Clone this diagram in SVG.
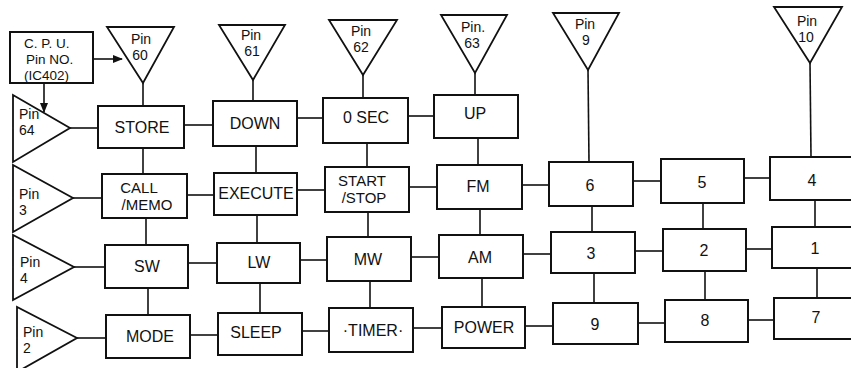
<svg xmlns="http://www.w3.org/2000/svg" width="851" height="368" viewBox="0 0 851 368">
<defs>
<style>
.b{fill:#fff;stroke:#111;stroke-width:2}
.t{fill:#fff;stroke:#111;stroke-width:1.8;stroke-linejoin:miter}
.c{stroke:#111;stroke-width:1.6;fill:none}
text{font-family:"Liberation Sans",Arial,sans-serif;fill:#111}
.l{font-size:16px;text-anchor:middle}
.l2{font-size:15px;text-anchor:middle}
.p{font-size:14px;text-anchor:middle}
.pl{font-size:14px}
.cpu{font-size:13.5px}
</style>
<marker id="ah" markerWidth="10" markerHeight="8" refX="9" refY="4" orient="auto" markerUnits="userSpaceOnUse">
<path d="M0,0 L10,4 L0,8 Z" fill="#111"/>
</marker>
</defs>
<rect width="851" height="368" fill="#fff"/>
<g id="connectors">
<line class="c" x1="93" y1="59" x2="122" y2="59" marker-end="url(#ah)"/>
<line class="c" x1="44" y1="84" x2="44" y2="112" marker-end="url(#ah)"/>
<line class="c" x1="143" y1="83" x2="143" y2="106"/>
<line class="c" x1="253" y1="80" x2="253" y2="101"/>
<line class="c" x1="363" y1="75" x2="363" y2="98"/>
<line class="c" x1="475" y1="73" x2="475" y2="95"/>
<line class="c" x1="588" y1="70" x2="589" y2="162"/>
<line class="c" x1="810" y1="63" x2="811" y2="157"/>
<line class="c" x1="143" y1="148" x2="143" y2="174"/>
<line class="c" x1="146" y1="218" x2="146" y2="245"/>
<line class="c" x1="148" y1="288" x2="148" y2="315"/>
<line class="c" x1="256" y1="146" x2="256" y2="173"/>
<line class="c" x1="257" y1="215" x2="257" y2="243"/>
<line class="c" x1="260" y1="283" x2="260" y2="313"/>
<line class="c" x1="367" y1="143" x2="367" y2="167"/>
<line class="c" x1="368" y1="212" x2="368" y2="237"/>
<line class="c" x1="370" y1="281" x2="370" y2="308"/>
<line class="c" x1="478" y1="138" x2="478" y2="165"/>
<line class="c" x1="480" y1="209" x2="480" y2="235"/>
<line class="c" x1="482" y1="278" x2="482" y2="307"/>
<line class="c" x1="592" y1="206" x2="592" y2="232"/>
<line class="c" x1="594" y1="273" x2="594" y2="303"/>
<line class="c" x1="703" y1="203" x2="703" y2="229"/>
<line class="c" x1="705" y1="271" x2="705" y2="300"/>
<line class="c" x1="815" y1="200" x2="815" y2="227"/>
<line class="c" x1="817" y1="268" x2="817" y2="298"/>
<line class="c" x1="70" y1="128" x2="98" y2="128"/>
<line class="c" x1="184" y1="125" x2="213" y2="125"/>
<line class="c" x1="297" y1="118" x2="323" y2="118"/>
<line class="c" x1="408" y1="116" x2="434" y2="116"/>
<line class="c" x1="73" y1="198" x2="102" y2="198"/>
<line class="c" x1="187" y1="195" x2="214" y2="195"/>
<line class="c" x1="297" y1="190" x2="325" y2="190"/>
<line class="c" x1="409" y1="187" x2="437" y2="187"/>
<line class="c" x1="522" y1="185" x2="549" y2="185"/>
<line class="c" x1="633" y1="181" x2="661" y2="181"/>
<line class="c" x1="744" y1="178" x2="770" y2="178"/>
<line class="c" x1="74" y1="267" x2="105" y2="267"/>
<line class="c" x1="188" y1="263" x2="217" y2="263"/>
<line class="c" x1="300" y1="260" x2="327" y2="260"/>
<line class="c" x1="411" y1="257" x2="439" y2="257"/>
<line class="c" x1="523" y1="254" x2="551" y2="254"/>
<line class="c" x1="635" y1="251" x2="663" y2="251"/>
<line class="c" x1="746" y1="249" x2="772" y2="249"/>
<line class="c" x1="77" y1="338" x2="106" y2="338"/>
<line class="c" x1="190" y1="335" x2="218" y2="335"/>
<line class="c" x1="302" y1="331" x2="329" y2="331"/>
<line class="c" x1="413" y1="328" x2="442" y2="328"/>
<line class="c" x1="525" y1="326" x2="553" y2="326"/>
<line class="c" x1="638" y1="323" x2="665" y2="323"/>
<line class="c" x1="748" y1="320" x2="774" y2="320"/>
</g>
<g id="cpu">
<rect class="b" x="10" y="32" width="83" height="51"/>
<text class="cpu" x="24" y="48">C. P. U.</text>
<text class="cpu" x="26" y="64">Pin  NO.</text>
<text class="cpu" x="24" y="80">(IC402)</text>
</g>
<g id="pin60"><polygon class="t" points="107,27 174,27 143,83"/><text class="p" x="141" y="44">Pin</text><text class="p" x="140" y="60">60</text></g>
<g id="pin61"><polygon class="t" points="219,25 285,25 253,80"/><text class="p" x="251" y="40">Pin</text><text class="p" x="252" y="56">61</text></g>
<g id="pin62"><polygon class="t" points="329,20 397,20 363,75"/><text class="p" x="361" y="36">Pin</text><text class="p" x="361" y="52">62</text></g>
<g id="pin63"><polygon class="t" points="441,15 507,15 475,73"/><text class="p" x="473" y="32">Pin.</text><text class="p" x="472" y="48">63</text></g>
<g id="pin9"><polygon class="t" points="553,13 619,13 588,70"/><text class="p" x="585" y="29">Pin</text><text class="p" x="586" y="45">9</text></g>
<g id="pin10"><polygon class="t" points="774,7 842,7 810,63"/><text class="p" x="807" y="26">Pin</text><text class="p" x="806" y="42">10</text></g>
<g id="pin64"><polygon class="t" points="13,95 13,162 70,128"/><text class="pl" x="19" y="119">Pin</text><text class="pl" x="19" y="135">64</text></g>
<g id="pin3"><polygon class="t" points="13,165 13,232 73,198"/><text class="pl" x="19" y="199">Pin</text><text class="pl" x="19" y="215">3</text></g>
<g id="pin4"><polygon class="t" points="13,235 13,300 74,267"/><text class="pl" x="20" y="267">Pin</text><text class="pl" x="20" y="283">4</text></g>
<g id="pin2"><polygon class="t" points="17,307 17,372 77,338"/><text class="pl" x="23" y="337">Pin</text><text class="pl" x="23" y="353">2</text></g>
<g id="store"><rect class="b" x="98" y="106" width="86" height="42"/><text class="l" x="142" y="133">STORE</text></g>
<g id="down"><rect class="b" x="213" y="101" width="84" height="45"/><text class="l" x="255" y="129">DOWN</text></g>
<g id="osec"><rect class="b" x="323" y="98" width="85" height="45"/><text class="l" x="366" y="123">0 SEC</text></g>
<g id="up"><rect class="b" x="434" y="95" width="84" height="43"/><text class="l" x="475" y="119">UP</text></g>
<g id="callmemo"><rect class="b" x="102" y="174" width="85" height="44"/><text class="l2" x="139" y="193">CALL</text><text class="l2" x="147" y="210">/MEMO</text></g>
<g id="execute"><rect class="b" x="214" y="173" width="83" height="42"/><text class="l" x="256" y="199">EXECUTE</text></g>
<g id="startstop"><rect class="b" x="325" y="167" width="84" height="45"/><text class="l2" x="362" y="186">START</text><text class="l2" x="364" y="203">/STOP</text></g>
<g id="fm"><rect class="b" x="437" y="165" width="85" height="44"/><text class="l" x="478" y="192">FM</text></g>
<g id="k6"><rect class="b" x="549" y="162" width="84" height="44"/><text class="l" x="590" y="191">6</text></g>
<g id="k5"><rect class="b" x="661" y="159" width="83" height="44"/><text class="l" x="702" y="188">5</text></g>
<g id="k4"><rect class="b" x="770" y="157" width="100" height="43"/><text class="l" x="812" y="186">4</text></g>
<g id="sw"><rect class="b" x="105" y="245" width="83" height="43"/><text class="l" x="147" y="272">SW</text></g>
<g id="lw"><rect class="b" x="217" y="243" width="83" height="40"/><text class="l" x="259" y="268">LW</text></g>
<g id="mw"><rect class="b" x="327" y="237" width="84" height="44"/><text class="l" x="368" y="265">MW</text></g>
<g id="am"><rect class="b" x="439" y="235" width="84" height="43"/><text class="l" x="480" y="263">AM</text></g>
<g id="k3"><rect class="b" x="551" y="232" width="84" height="41"/><text class="l" x="591" y="259">3</text></g>
<g id="k2"><rect class="b" x="663" y="229" width="83" height="42"/><text class="l" x="704" y="256">2</text></g>
<g id="k1"><rect class="b" x="772" y="227" width="100" height="41"/><text class="l" x="815" y="254">1</text></g>
<g id="mode"><rect class="b" x="106" y="315" width="84" height="43"/><text class="l" x="150" y="342">MODE</text></g>
<g id="sleep"><rect class="b" x="218" y="313" width="84" height="42"/><text class="l" x="256" y="338">SLEEP</text></g>
<g id="timer"><rect class="b" x="329" y="308" width="84" height="44"/><text class="l" x="373" y="336">·TIMER·</text></g>
<g id="power"><rect class="b" x="442" y="307" width="83" height="41"/><text class="l" x="484" y="333">POWER</text></g>
<g id="k9"><rect class="b" x="553" y="303" width="85" height="41"/><text class="l" x="595" y="330">9</text></g>
<g id="k8"><rect class="b" x="665" y="300" width="83" height="42"/><text class="l" x="705" y="326">8</text></g>
<g id="k7"><rect class="b" x="774" y="298" width="100" height="41"/><text class="l" x="816" y="323">7</text></g>
</svg>
